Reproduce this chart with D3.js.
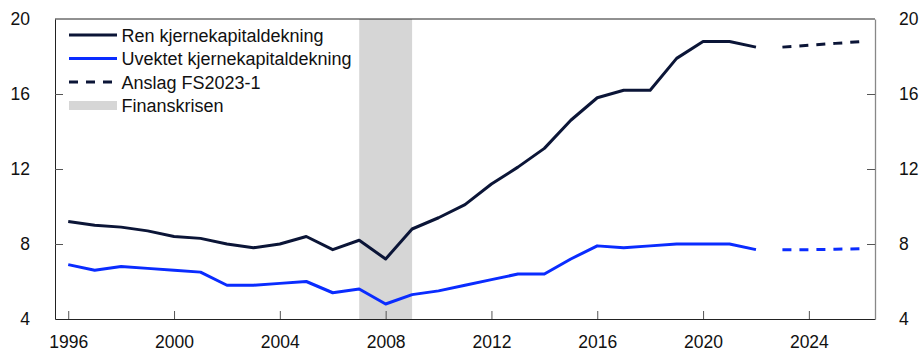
<!DOCTYPE html>
<html>
<head>
<meta charset="utf-8">
<script src="https://cdn.jsdelivr.net/npm/d3@7"></script>
<style>
  html, body { margin: 0; padding: 0; background: #fff; }
  svg { display: block; font-family: "Liberation Sans", Arial, Helvetica, sans-serif; }
</style>
</head>
<body>
<svg id="chart" width="922" height="352"></svg>
<script>
// Historical years and series
const years = [1996, 1997, 1998, 1999, 2000, 2001, 2002, 2003, 2004, 2005, 2006, 2007, 2008, 2009,
               2010, 2011, 2012, 2013, 2014, 2015, 2016, 2017, 2018, 2019, 2020, 2021, 2022];
const renKjerne = [9.2, 9.0, 8.9, 8.7, 8.4, 8.3, 8.0, 7.8, 8.0, 8.4, 7.7, 8.2, 7.2, 8.8,
                   9.4, 10.1, 11.2, 12.1, 13.1, 14.6, 15.8, 16.2, 16.2, 17.9, 18.8, 18.8, 18.5];
const uvektet = [6.9, 6.6, 6.8, 6.7, 6.6, 6.5, 5.8, 5.8, 5.9, 6.0, 5.4, 5.6, 4.8, 5.3,
                 5.5, 5.8, 6.1, 6.4, 6.4, 7.2, 7.9, 7.8, 7.9, 8.0, 8.0, 8.0, 7.7];

// Projections (Anslag FS2023-1)
const anslagYears = [2023, 2024, 2025, 2026];
const renAnslag = [18.5, 18.6, 18.7, 18.8];
const uvektetAnslag = [7.7, 7.7, 7.72, 7.75];

// Financial crisis period
const crisis = [2007, 2009];

const xTicks = [1996, 2000, 2004, 2008, 2012, 2016, 2020, 2024];
const yTicks = [4, 8, 12, 16, 20];

const legendItems = [
  { label: "Ren kjernekapitaldekning", type: "line", color: "#0b1537" },
  { label: "Uvektet kjernekapitaldekning", type: "line", color: "#0a2cff" },
  { label: "Anslag FS2023-1", type: "dash", color: "#0b1537" },
  { label: "Finanskrisen", type: "box", color: "#d6d6d6" }
];

const dark = "#0b1537", blue = "#0a2cff";
const m = { left: 55, right: 47, top: 19, bottom: 33 };
const W = 922, H = 352;
const svg = d3.select("#chart");

const x = d3.scaleLinear().domain([1995.5, 2026.5]).range([m.left, W - m.right]);
const y = d3.scaleLinear().domain([4, 20]).range([H - m.bottom, m.top]);

// crisis shading
svg.append("rect")
  .attr("x", x(crisis[0])).attr("width", x(crisis[1]) - x(crisis[0]))
  .attr("y", y(20)).attr("height", y(4) - y(20))
  .attr("fill", "#d6d6d6");

// frame: top and right lines
svg.append("line").attr("x1", m.left).attr("x2", W - m.right).attr("y1", y(20)).attr("y2", y(20))
  .attr("stroke", "#222").attr("stroke-width", 1);

// axes
const fs = 17.5, legendFs = 18;
const xAxis = svg.append("g").attr("transform", `translate(0,${y(4)})`)
  .call(d3.axisBottom(x).tickValues(xTicks).tickFormat(d3.format("d")).tickSizeInner(-8).tickSizeOuter(0).tickPadding(17));
const yLeft = svg.append("g").attr("transform", `translate(${m.left},0)`)
  .call(d3.axisLeft(y).tickValues(yTicks).tickSizeInner(-8).tickSizeOuter(0).tickPadding(25));
const yRight = svg.append("g").attr("transform", `translate(${W - m.right},0)`)
  .call(d3.axisRight(y).tickValues(yTicks).tickSizeInner(-8).tickSizeOuter(0).tickPadding(24));

[xAxis, yLeft, yRight].forEach(g => {
  g.selectAll("text").attr("font-size", fs).attr("fill", "#111")
    .attr("font-family", "'Liberation Sans', Arial, sans-serif");
  g.selectAll(".tick line").attr("stroke", "#555");
});
xAxis.select(".domain").attr("stroke", "#222");
yLeft.select(".domain").attr("stroke", "#222");
yRight.select(".domain").attr("stroke", "#888").attr("stroke-width", 1.3);
yRight.selectAll(".tick text").attr("x", 24).attr("text-anchor", "start");
yLeft.selectAll(".tick text").attr("text-anchor", "end");
// no tick marks at the frame corners
yLeft.selectAll(".tick").filter(d => d === 4 || d === 20).select("line").remove();
yRight.selectAll(".tick").filter(d => d === 4 || d === 20).select("line").remove();

// lines
const line = d3.line().x(d => x(d[0])).y(d => y(d[1]));
function drawSeries(xs, vs, color, dashed) {
  svg.append("path")
    .datum(xs.map((yr, i) => [yr, vs[i]]))
    .attr("d", line)
    .attr("fill", "none")
    .attr("stroke", color)
    .attr("stroke-width", 3)
    .attr("stroke-linejoin", "round")
    .attr("stroke-dasharray", dashed ? "9,8" : null);
}
drawSeries(years, renKjerne, dark, false);
drawSeries(years, uvektet, blue, false);
drawSeries(anslagYears, renAnslag, dark, true);
drawSeries(anslagYears, uvektetAnslag, blue, true);

// legend
const lg = svg.append("g");
legendItems.forEach((it, i) => {
  const cy = 35 + i * 23.5;
  if (it.type === "box") {
    lg.append("rect").attr("x", 69).attr("y", cy - 4.5).attr("width", 48).attr("height", 9).attr("fill", it.color);
  } else {
    lg.append("line").attr("x1", 69).attr("x2", 117).attr("y1", cy).attr("y2", cy)
      .attr("stroke", it.color).attr("stroke-width", 3)
      .attr("stroke-dasharray", it.type === "dash" ? "9,8" : null);
  }
  lg.append("text").attr("x", 121.5).attr("y", cy + 6.5)
    .attr("font-size", legendFs).attr("fill", "#111").text(it.label);
});
</script>
</body>
</html>
